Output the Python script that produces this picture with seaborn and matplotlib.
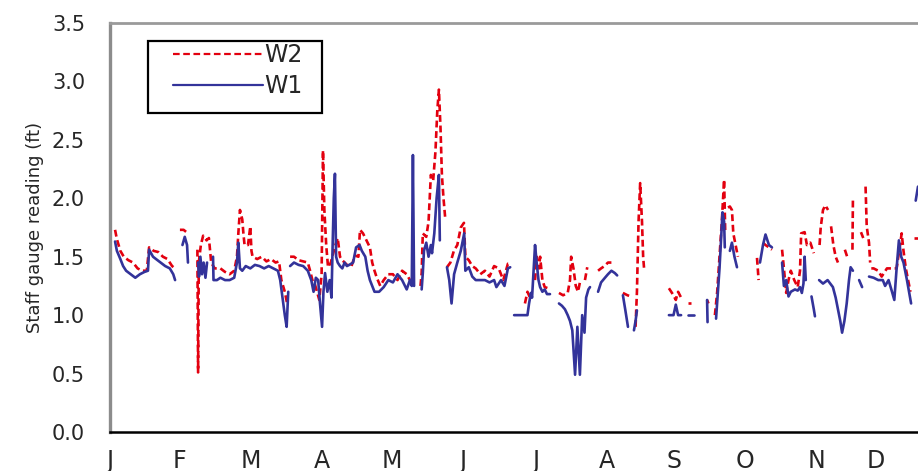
import numpy as np
import pandas as pd
import seaborn as sns
import matplotlib.pyplot as plt
from matplotlib.lines import Line2D
from matplotlib.patches import Rectangle

nan = np.nan

# day of record (0 = start of January) and staff gauge readings (ft); nan = gap in record
w2_day = [2.2, 3, 4.5, 6, 8, 10, 12, 14, 16, 17, 19, 21, 23, 25, 27, 28.3, nan,
          30.4, 32, 33.9, nan,
          38.0, 38.3, 38.6, 39.5, 40.5, 42, 43, 44, 45.5, 48, 50, 52, 54, 55.2, 55.8, 56.5, 57.5, 58, 58.5,
          60, 61, 61.5, 62, 64, 66, 68, 70, 72, 73.5, 74.5, 76, 77, nan,
          78.3, 80, 82, 84, 86, 87, 88, 89, 90, 91, 92, 92.6, 93.2, 94, 94.8, 96, 98, 99, 100, 101, 103,
          105, 106.5, 108, 108.7, 110, 111.5, 113, 114, 115, 116, 117.5, 119, 121, 123, 125, 127, 129,
          130.4, nan,
          135, 135.5, 136, 137.5, 138.5, 139.5, 140.5, 141.5, 142.3, 143, 143.7, 144.3, 145, 145.7, nan,
          146.5, 148, 149.5, 151, 152.5, 153.9, 154.5, 156, 157.5, 159, 161, 163, 165, 167, 169, 171,
          173, 174, nan,
          180.4, 181.5, 182.6, nan,
          184.8, 185.5, 186.5, 187, 188, 189, 190.5, 191.5, nan,
          195.2, 197, 199, 200, 200.5, 201.5, 202.5, 203.5, 204.5, nan,
          206.5, 207.5, nan,
          212.2, 213.5, 215, 216.5, 218, nan,
          223, 225, 226.5, nan,
          228.5, 229.1, 229.8, 230.5, 231.3, 231.8, 232.2, nan,
          243, 244, 245, 246, 247, 248.3, nan,
          251.5, 252.5, nan,
          259.6, 260.2, nan,
          263, 264, 265, 266, 267, 267.5, nan,
          268.7, 269.5, 270.4, 271, 272, 273, nan,
          281.3, 282, nan,
          283.9, 285, 286.5, 287.8, nan,
          292.2, 293, 294, 295, 296, 297.5, 299, 300, 300.5, 302, 303, 304.5, 306, nan,
          308.5, 309, 310, 311, 312.2, nan,
          313.5, 314.5, 315.5, 316.5, nan,
          319.5, 320.5, nan,
          322.8, 323, nan,
          326.5, 327.5, nan,
          328.5, 329, 330, 330.5, nan,
          331, 332, 334, 335.5, 337.8, 340, 342, 343.5, 344.2, 345, 346, 347, 348, nan,
          349.5, 351.5]
w2_val = [1.73, 1.65, 1.55, 1.5, 1.47, 1.45, 1.4, 1.38, 1.38, 1.58, 1.55, 1.54, 1.5, 1.48, 1.42, 1.40, nan,
          1.73, 1.73, 1.70, nan,
          1.56, 0.51, 1.45, 1.60, 1.68, 1.64, 1.66, 1.45, 1.40, 1.40, 1.37, 1.35, 1.38, 1.50, 1.70, 1.90, 1.82, 1.70, 1.60,
          1.60, 1.76, 1.55, 1.50, 1.48, 1.50, 1.46, 1.48, 1.45, 1.46, 1.30, 1.20, 1.10, nan,
          1.50, 1.50, 1.47, 1.46, 1.45, 1.38, 1.30, 1.27, 1.20, 1.13, 1.35, 2.41, 1.90, 1.60, 1.41, 1.45, 1.60, 1.66, 1.50, 1.47, 1.43,
          1.42, 1.51, 1.50, 1.73, 1.70, 1.64, 1.58, 1.45, 1.38, 1.32, 1.25, 1.30, 1.35, 1.35, 1.30, 1.38, 1.35,
          1.30, nan,
          1.25, 1.36, 1.70, 1.67, 1.80, 2.20, 2.15, 2.40, 2.75, 2.93, 2.60, 2.20, 2.00, 1.84, nan,
          1.41, 1.45, 1.55, 1.60, 1.75, 1.79, 1.50, 1.47, 1.42, 1.40, 1.35, 1.38, 1.33, 1.42, 1.40, 1.30,
          1.44, 1.44, nan,
          1.10, 1.20, 1.15, nan,
          1.30, 1.50, 1.40, 1.50, 1.30, 1.24, 1.23, 1.23, nan,
          1.19, 1.17, 1.19, 1.30, 1.50, 1.40, 1.25, 1.20, 1.30, nan,
          1.30, 1.41, nan,
          1.38, 1.40, 1.42, 1.45, 1.45, nan,
          1.19, 1.17, 1.16, nan,
          0.90, 1.20, 1.80, 2.13, 1.80, 1.50, 1.40, nan,
          1.23, 1.20, 1.17, 1.13, 1.20, 1.15, nan,
          1.10, 1.10, nan,
          1.13, 1.10, nan,
          1.00, 1.20, 1.50, 1.80, 2.16, 1.70, nan,
          1.92, 1.93, 1.90, 1.70, 1.60, 1.50, nan,
          1.49, 1.30, nan,
          1.62, 1.60, 1.58, 1.56, nan,
          1.56, 1.40, 1.19, 1.30, 1.38, 1.30, 1.24, 1.38, 1.70, 1.71, 1.60, 1.62, 1.53, nan,
          1.60, 1.75, 1.90, 1.94, 1.90, nan,
          1.76, 1.60, 1.50, 1.45, nan,
          1.56, 1.50, nan,
          1.56, 1.98, nan,
          1.71, 1.66, nan,
          2.10, 1.76, 1.62, 1.45, nan,
          1.40, 1.40, 1.38, 1.33, 1.40, 1.40, 1.40, 1.60, 1.70, 1.55, 1.40, 1.30, 1.20, nan,
          1.66, 1.66]

w1_day = [2.2, 3, 4.5, 5.7, 7, 9, 11, 13, 15, 16.5, 17, 18.7, 20, 22, 24, 26, 27.5, 28.3, nan,
          31.5, 32.5, 33.5, 33.9, nan,
          38.3, 38.7, 39.3, 40, 40.7, 41.5, 42.2, nan,
          44.8, 45, 46.5, 48, 50, 52, 54, 55.2, 55.8, 56.5, 57.5, 59, 61, 63, 65, 67, 69, 71, 73, 74, 75,
          76, 76.8, 77.5, nan,
          78.3, 80, 82, 84, 86, 87.5, 88.5, 89.5, 90.5, 91.3, 92.2, 92.8, 93.5, 94.5, 95.5, 96.3, 96.8,
          97.3, 97.8, 98.3, 99, 100, 101, 102, 103, 104, 105.7, 107, 108.5, 109.5, 111, 112, 113, 114,
          115, 117, 119, 121, 123, 125, 127, 129, 130.4, 131.2, 131.7, 132.2, nan,
          135.5, 136, 136.5, 137.5, 138.5, 139.5, 140, 141, 142, 143, 143.4, nan,
          146.5, 147.5, 148.5, 149.6, 151, 152.5, 154, 154.5, 156, 157.5, 159, 161, 163, 165, 167, 168,
          170, 171.5, 173, 174, nan,
          175.7, 178.3, 180.4, 181.5, 182.2, 183, 183.5, 184.8, 185.5, 186.3, 187, 188, 189, 190, 191.3, nan,
          195.2, 196.5, 197.8, 199, 200, 201, 202.2, 203.2, 204.3, 205.3, 206.3, 207, 208, 208.7, nan,
          212.2, 213.5, 215.2, 216.5, 218, 219.5, 220.5, nan,
          223, 224, 225.2, nan,
          227.8, 228.5, 229.1, nan,
          243, 245, 246, 247, 248.3, nan,
          251.5, 253.9, nan,
          259.6, 259.8, nan,
          263.5, 265, 266.3, 267, 267.3, nan,
          269.5, 270.4, 271.5, 272.6, nan,
          282.6, 283.9, 285, 286.5, 287.8, nan,
          292.2, 293, 294, 295, 296, 297.8, 299, 300, 300.8, 301.5, 302, 302.5, nan,
          305, 306, 306.5, nan,
          308.3, 310, 312, 314.3, 315.5, 316.5, 317.5, 318.3, 319.3, 320.3, 321.3, 322, 323, nan,
          325.7, 327, nan,
          330, 332, 334, 336, 337, 338.5, 340, 341, 342, 343, 344, 345, 346.5, 348.3, nan,
          350.3, 351.3]
w1_val = [1.63, 1.55, 1.48, 1.42, 1.38, 1.35, 1.32, 1.35, 1.37, 1.38, 1.56, 1.50, 1.48, 1.45, 1.42, 1.40, 1.35, 1.30, nan,
          1.60, 1.67, 1.60, 1.45, nan,
          1.45, 1.33, 1.50, 1.35, 1.45, 1.32, 1.45, nan,
          1.50, 1.30, 1.30, 1.32, 1.30, 1.30, 1.32, 1.45, 1.62, 1.40, 1.38, 1.42, 1.40, 1.43, 1.42, 1.40, 1.42, 1.40, 1.38, 1.30, 1.15,
          1.00, 0.90, 1.20, nan,
          1.42, 1.45, 1.43, 1.42, 1.38, 1.30, 1.20, 1.32, 1.30, 1.10, 0.90, 1.20, 1.36, 1.20, 1.30, 1.15, 1.60,
          2.00, 2.21, 1.50, 1.45, 1.42, 1.40, 1.45, 1.42, 1.43, 1.45, 1.58, 1.60, 1.55, 1.50, 1.38, 1.30, 1.25,
          1.20, 1.20, 1.24, 1.30, 1.28, 1.35, 1.30, 1.22, 1.30, 1.25, 2.37, 1.25, nan,
          1.22, 1.36, 1.55, 1.62, 1.50, 1.60, 1.53, 1.70, 2.00, 2.20, 1.64, nan,
          1.41, 1.30, 1.10, 1.35, 1.45, 1.55, 1.70, 1.38, 1.41, 1.33, 1.30, 1.30, 1.30, 1.28, 1.30, 1.24,
          1.30, 1.25, 1.40, 1.41, nan,
          1.00, 1.00, 1.00, 1.00, 1.10, 1.19, 1.15, 1.60, 1.45, 1.30, 1.24, 1.20, 1.22, 1.18, 1.18, nan,
          1.10, 1.08, 1.05, 1.00, 0.95, 0.87, 0.49, 0.90, 0.49, 1.00, 0.85, 1.15, 1.22, 1.24, nan,
          1.20, 1.28, 1.32, 1.35, 1.38, 1.36, 1.34, nan,
          1.17, 1.05, 0.90, nan,
          0.87, 0.95, 1.04, nan,
          1.00, 1.00, 1.09, 1.00, 1.00, nan,
          1.00, 1.00, nan,
          1.13, 0.94, nan,
          0.97, 1.40, 1.88, 1.80, 1.58, nan,
          1.55, 1.62, 1.50, 1.41, nan,
          1.45, 1.60, 1.69, 1.60, 1.58, nan,
          1.45, 1.25, 1.30, 1.16, 1.20, 1.22, 1.21, 1.24, 1.19, 1.27, 1.50, 1.30, nan,
          1.16, 1.05, 0.99, nan,
          1.30, 1.27, 1.30, 1.24, 1.15, 1.05, 0.95, 0.85, 0.95, 1.10, 1.30, 1.41, 1.38, nan,
          1.30, 1.24, nan,
          1.33, 1.32, 1.30, 1.30, 1.25, 1.30, 1.20, 1.13, 1.40, 1.64, 1.50, 1.45, 1.30, 1.10, nan,
          1.98, 2.10]

month_pos = [0, 30.4, 61.3, 92.2, 122.6, 153.5, 185.2, 216.1, 245.2, 276.1, 307, 333]
month_lbl = ['J', 'F', 'M', 'A', 'M', 'J', 'J', 'A', 'S', 'O', 'N', 'D']
y_ticks = [0.0, 0.5, 1.0, 1.5, 2.0, 2.5, 3.0, 3.5]

colors = {'W2': '#e3000f', 'W1': '#33339a'}


def to_frame(day, val, name):
    df = pd.DataFrame({'day': day, 'reading': val})
    # every gap starts a new unit so the line breaks there
    df['seg'] = name + df['reading'].isna().cumsum().astype(str)
    df['gauge'] = name
    return df.dropna()


data = pd.concat([to_frame(w2_day, w2_val, 'W2'), to_frame(w1_day, w1_val, 'W1')], ignore_index=True)

sns.set_style('white')
plt.rcParams['font.family'] = ['DejaVu Sans']

fig = plt.figure(figsize=(9.18, 4.71), dpi=100)
ax = fig.add_axes([110 / 918, 1 - 432 / 471, 1 - 110 / 918, (432 - 23) / 471])

sns.lineplot(data=data, x='day', y='reading', hue='gauge', style='gauge', units='seg',
             estimator=None, sort=False, hue_order=['W2', 'W1'], style_order=['W2', 'W1'],
             palette=colors, dashes={'W2': (2.6, 1.4), 'W1': ''}, linewidth=1.9,
             legend=False, ax=ax)

ax.set_xlim(0, 351.3)
ax.set_ylim(0, 3.5)
ax.set_xticks(month_pos)
ax.set_xticklabels(month_lbl, fontsize=17)
ax.set_yticks(y_ticks)
ax.set_yticklabels([f'{v:.1f}' for v in y_ticks], fontsize=15)
ax.set_xlabel('')
ax.set_ylabel('Staff gauge reading (ft)', fontsize=13, labelpad=6)
ax.tick_params(axis='both', direction='out', length=6, width=1.4, color='black')
ax.tick_params(axis='y', pad=12)
ax.tick_params(axis='x', pad=6)

ax.spines['right'].set_visible(False)
ax.spines['left'].set_color('#8c8c8c')
ax.spines['left'].set_linewidth(2.4)
ax.spines['top'].set_color('#9a9a9a')
ax.spines['top'].set_linewidth(2)
ax.spines['bottom'].set_color('black')
ax.spines['bottom'].set_linewidth(1.8)

handles = [Line2D([], [], color=colors['W2'], lw=1.6, dashes=(3, 1.6)),
           Line2D([], [], color=colors['W1'], lw=1.6)]
fig.legend(handles, ['W2', 'W1'], loc='upper left', bbox_to_anchor=(173 / 918, 1 - 43 / 471),
           frameon=False, fontsize=17, handlelength=3.8, handletextpad=0.05,
           labelspacing=0.3, borderpad=0, borderaxespad=0)
fig.add_artist(Rectangle((148 / 918, 1 - 113 / 471), 174 / 918, 72 / 471, transform=fig.transFigure,
                         fill=False, edgecolor='black', linewidth=1.6))

fig.savefig('out.png', dpi=100)
